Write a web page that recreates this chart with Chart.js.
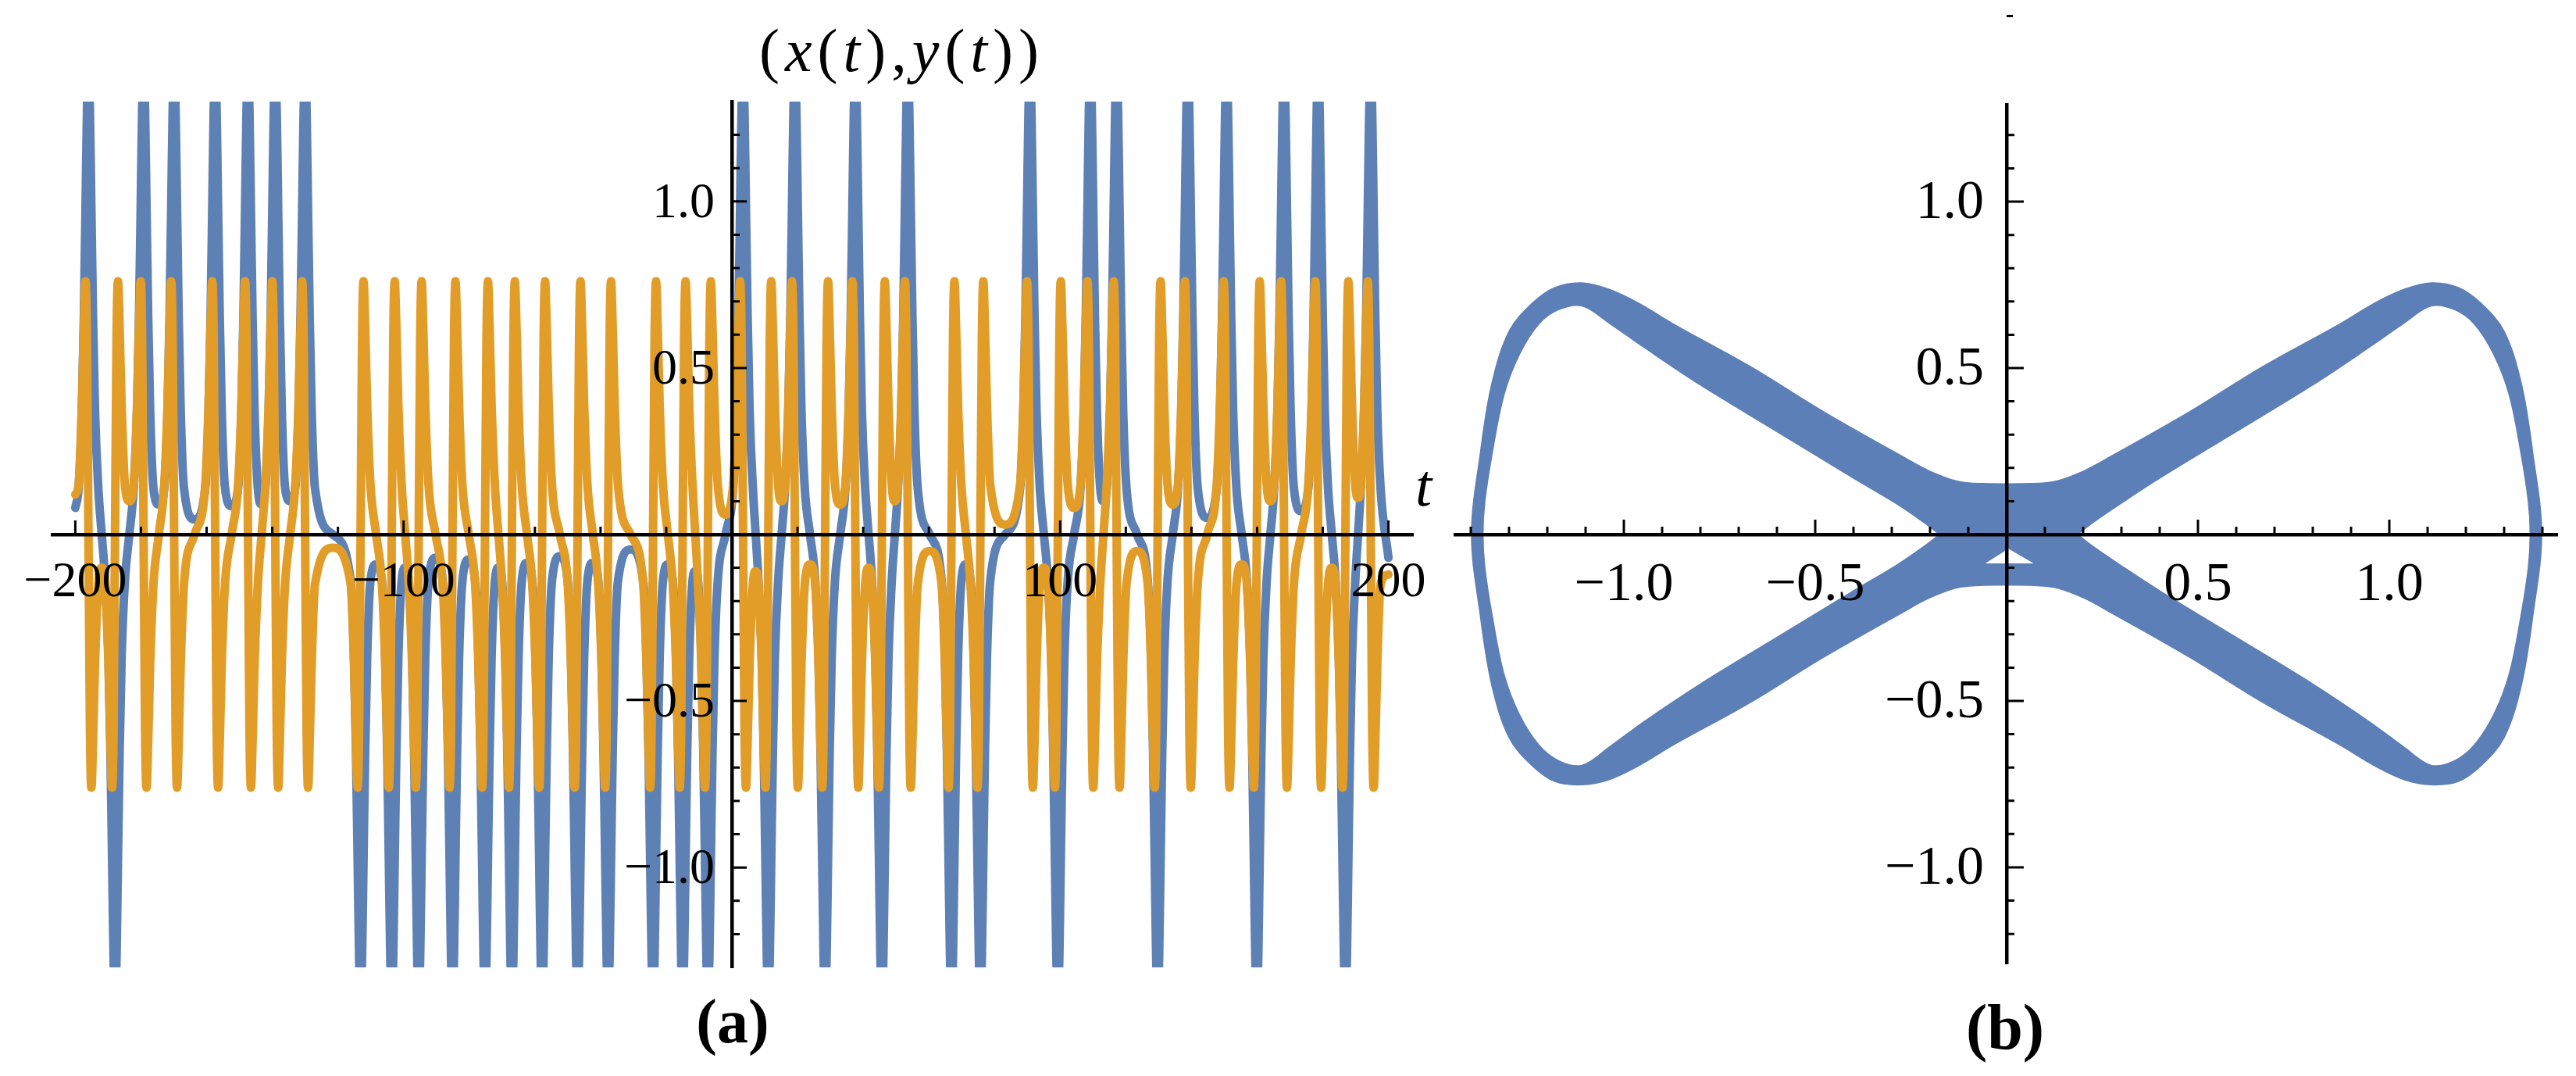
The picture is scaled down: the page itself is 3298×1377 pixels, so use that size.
<!DOCTYPE html>
<html><head><meta charset="utf-8">
<script src="https://cdn.jsdelivr.net/npm/chart.js@4.4.1/dist/chart.umd.min.js"></script>
<style>
html,body{margin:0;padding:0;background:#fff;}
#wrap{position:relative;width:3298px;height:1377px;overflow:hidden;background:#fff;}
canvas{position:absolute;top:0;}
#ca{left:0;width:1850px;height:1377px;}
#cb{left:1850px;width:1448px;height:1377px;}
.lbl{position:absolute;font-family:"Liberation Serif",serif;color:#000;line-height:1;white-space:nowrap;}
#speck{position:absolute;left:2569px;top:19px;width:8px;height:3px;background:#000;}
</style></head><body>
<div id="wrap">
<canvas id="ca" width="1850" height="1377"></canvas>
<canvas id="cb" width="1448" height="1377"></canvas>
<div class="lbl" style="left:972px;top:26px;font-size:78px;letter-spacing:7px;">(<i>x</i>(<i>t</i>),<i>y</i>(<i>t</i>))</div>
<div class="lbl" style="left:1812px;top:583px;font-size:76px;"><i>t</i></div>
<div class="lbl" style="left:838px;width:200px;text-align:center;top:1267px;font-size:80px;font-weight:bold;">(a)</div>
<div class="lbl" style="left:2467px;width:200px;text-align:center;top:1274px;font-size:82px;font-weight:bold;">(b)</div>
<div id="speck"></div>
</div>
<script>
// ---------- Panel (a): events ----------
const eventT = [-196.0,-187.9,-179.2,-169.9,-157.4,-147.4,-139.1,-130.0,-113.1,-103.6,-95.4,-85.1,-75.2,-67.0,-57.8,-47.0,-37.7,-24.0,-15.0,-7.3,3.4,11.1,19.2,28.4,37.6,45.7,53.6,66.9,75.7,90.8,99.3,109.2,117.2,129.7,138.9,150.7,159.9,168.2,178.6,186.9,194.6];
const eventSign = [1,-1,1,1,1,1,1,1,-1,-1,-1,-1,-1,-1,-1,-1,-1,-1,-1,-1,1,-1,1,-1,1,-1,1,-1,-1,1,-1,1,1,-1,1,1,-1,1,1,-1,1];
// shape of one excursion (offset in t, |x|, y) read from the spikes
const pulseDt = [-3,-2,-1.4,-0.9,-0.45,0,0.45,0.9,1.4,2,3];
const pulseX  = [0.14,0.37,0.65,0.97,1.27,1.38,1.27,0.97,0.65,0.37,0.14];
const pulseY  = [0.15,0.39,0.62,0.76,0.58,0,-0.58,-0.76,-0.62,-0.39,-0.15];
// values in the middle of each gap between excursions
const gapX = [0,0,0.09,0.045,0.085,0.09,0.10,0,-0.09,-0.10,-0.07,-0.075,-0.10,-0.085,-0.065,-0.085,-0.045,-0.09,-0.11,0,0,0,0,0,0,0,0,-0.09,0,0,0,0.10,0,0,0.05,0,0,0.07,0,0];
const gapY = [-0.10,0.10,0,0,0,0,0,-0.04,0,0,0,0,0,0,0,0,0,0,0,0.06,-0.11,0.10,-0.09,0.09,-0.10,0.10,-0.05,0,0.03,-0.10,0.08,0,-0.05,0.09,0,-0.09,0.10,0,-0.10,0.11];
const tStart = -200, tEnd = 200;
const xEnds = [0.08, -0.07];
const yEnds = [0.12, -0.12];

const aXLabelVals = [-200,-100,100,200];
const aXLabelText = ['\u2212200','\u2212100','100','200'];
const aXMinor = [-200,-180,-160,-140,-120,-100,-80,-60,-40,-20,20,40,60,80,100,120,140,160,180,200];
const yLabelVals = [-1,-0.5,0.5,1];
const yLabelText = ['\u22121.0','\u22120.5','0.5','1.0'];
const yMinor = [-1.2,-1.1,-1,-0.9,-0.8,-0.7,-0.6,-0.5,-0.4,-0.3,-0.2,-0.1,0.1,0.2,0.3,0.4,0.5,0.6,0.7,0.8,0.9,1,1.1,1.2];

// ---------- Panel (b): band boundaries ----------
const outerX = [0,0.12,0.20,0.27,0.48,0.67,0.87,0.96,1.04,1.11,1.18,1.24,1.30,1.345,1.375,1.398,1.375,1.345,1.30,1.24,1.18,1.11,1.04,0.96,0.87,0.67,0.48,0.27,0.20,0.12,0,-0.12,-0.20,-0.27,-0.48,-0.67,-0.87,-0.96,-1.04,-1.11,-1.18,-1.24,-1.30,-1.345,-1.375,-1.398,-1.375,-1.345,-1.30,-1.24,-1.18,-1.11,-1.04,-0.96,-0.87,-0.67,-0.48,-0.27,-0.20,-0.12,0];
const outerY = [0.152,0.158,0.19,0.233,0.37,0.505,0.632,0.694,0.737,0.756,0.742,0.694,0.61,0.453,0.244,0,-0.244,-0.453,-0.61,-0.694,-0.742,-0.752,-0.737,-0.694,-0.632,-0.505,-0.37,-0.233,-0.19,-0.158,-0.152,-0.158,-0.19,-0.233,-0.37,-0.505,-0.632,-0.694,-0.737,-0.752,-0.742,-0.694,-0.61,-0.453,-0.244,0,0.244,0.453,0.61,0.694,0.742,0.756,0.737,0.694,0.632,0.505,0.37,0.233,0.19,0.158,0.152];
const holeRX = [0.19,0.23,0.30,0.40,0.60,0.80,0.95,1.04,1.11,1.17,1.22,1.27,1.31,1.34,1.36,1.365,1.36,1.34,1.31,1.27,1.22,1.17,1.11,1.04,0.95,0.80,0.60,0.40,0.30,0.23,0.19];
const holeRY = [0,0.035,0.09,0.165,0.305,0.445,0.56,0.632,0.683,0.672,0.63,0.54,0.42,0.25,0.10,0,-0.10,-0.25,-0.42,-0.54,-0.63,-0.676,-0.69,-0.636,-0.56,-0.445,-0.305,-0.165,-0.09,-0.035,0];
const holeLX = [-0.18,-0.22,-0.29,-0.40,-0.60,-0.80,-0.95,-1.04,-1.11,-1.17,-1.22,-1.27,-1.31,-1.34,-1.36,-1.365,-1.36,-1.34,-1.31,-1.27,-1.22,-1.17,-1.11,-1.04,-0.95,-0.80,-0.60,-0.40,-0.29,-0.22,-0.18];
const holeLY = [0,0.035,0.09,0.165,0.305,0.445,0.56,0.632,0.683,0.672,0.63,0.54,0.42,0.25,0.10,0,-0.10,-0.25,-0.42,-0.54,-0.63,-0.676,-0.69,-0.636,-0.56,-0.445,-0.305,-0.165,-0.09,-0.035,0];
const triX = [-0.05,0.005,0.065,-0.05];
const triY = [-0.085,-0.045,-0.085,-0.085];
const bXLabelVals = [-1,-0.5,0.5,1];
const bXLabelText = ['\u22121.0','\u22120.5','0.5','1.0'];
const bXMinor = [-1.4,-1.3,-1.2,-1.1,-1,-0.9,-0.8,-0.7,-0.6,-0.5,-0.4,-0.3,-0.2,-0.1,0.1,0.2,0.3,0.4,0.5,0.6,0.7,0.8,0.9,1,1.1,1.2,1.3,1.4];

const BLUE = 'rgb(94,129,181)';
const ORANGE = 'rgb(226,157,40)';
const BAND = 'rgb(93,127,183)';
const SERIF = '"Liberation Serif", serif';

function buildSeries(profile, gaps, ends) {
  const pts = [{x: tStart, y: ends[0]}];
  for (let i = 0; i < eventT.length; i++) {
    for (let j = 0; j < pulseDt.length; j++) {
      pts.push({x: eventT[i] + pulseDt[j], y: eventSign[i] * profile[j]});
    }
    if (i < eventT.length - 1) pts.push({x: (eventT[i] + eventT[i + 1]) / 2, y: gaps[i]});
  }
  pts.push({x: tEnd, y: ends[1]});
  return pts;
}
function zipXY(xs, ys) { return xs.map((v, i) => ({x: v, y: ys[i]})); }

// Mathematica-style inward tick marks + y tick labels placed left of the crossing axis
function makeTicks(cfg) {
  return {
    id: 'mmaTicks',
    afterDraw(chart) {
      const ctx = chart.ctx, xs = chart.scales.x, ys = chart.scales.y;
      const x0 = xs.getPixelForValue(0), y0 = ys.getPixelForValue(0);
      ctx.save(); ctx.strokeStyle = '#000'; ctx.lineWidth = 3;
      ctx.beginPath();
      cfg.xTicks.forEach(v => { const p = xs.getPixelForValue(v); const L = cfg.xMajor.includes(v) ? cfg.major : cfg.minor; ctx.moveTo(p, y0); ctx.lineTo(p, y0 - L); });
      cfg.yTicks.forEach(v => { const p = ys.getPixelForValue(v); const L = cfg.yMajor.includes(v) ? cfg.majorY : cfg.minor; ctx.moveTo(x0, p); ctx.lineTo(x0 + L, p); });
      ctx.stroke();
      ctx.fillStyle = '#000';
      ctx.font = cfg.fontSize + 'px ' + SERIF;
      ctx.textAlign = 'right'; ctx.textBaseline = 'middle';
      cfg.yLabelVals.forEach((v, i) => { ctx.fillText(cfg.yLabelText[i], x0 - cfg.gap, ys.getPixelForValue(v) + 3); });
      ctx.restore();
    }
  };
}
const polyFill = {
  id: 'polyFill',
  beforeDatasetsDraw(chart) {
    const ctx = chart.ctx;
    chart.data.datasets.forEach((ds, i) => {
      if (!ds.polyFill) return;
      const line = chart.getDatasetMeta(i).dataset;
      if (!line) return;
      if (line.updateControlPoints) line.updateControlPoints(chart.chartArea, 'x');
      ctx.save(); ctx.beginPath(); line.path(ctx); ctx.closePath();
      ctx.fillStyle = ds.polyFill; ctx.fill();
      ctx.strokeStyle = ds.polyFill; ctx.lineWidth = 1.5; ctx.stroke();
      ctx.restore();
    });
  }
};

function xAxis(min, max, labelVals, labelText, pad, size) {
  return {
    type: 'linear', min: min, max: max, position: {y: 0},
    grid: {display: false, drawTicks: false},
    border: {display: true, color: '#000', width: 4.5, z: 2},
    afterBuildTicks: s => { s.ticks = labelVals.map(v => ({value: v})); },
    ticks: {z: 2, font: {family: SERIF, size: size}, color: '#000', padding: pad, autoSkip: false, maxRotation: 0,
      callback: v => { const k = labelVals.indexOf(v); return k < 0 ? '' : labelText[k]; }}
  };
}
function yAxis(min, max) {
  return {
    type: 'linear', min: min, max: max, position: {x: 0},
    grid: {display: false, drawTicks: false},
    border: {display: true, color: '#000', width: 4.5, z: 2},
    afterBuildTicks: s => { s.ticks = yLabelVals.map(v => ({value: v})); },
    ticks: {display: false}
  };
}

Chart.defaults.font.family = SERIF;

new Chart(document.getElementById('ca'), {
  type: 'scatter',
  data: {datasets: [
    {label: 'y(t)', data: buildSeries(pulseY, gapY, yEnds), showLine: true, borderColor: ORANGE, borderWidth: 11, pointRadius: 0, cubicInterpolationMode: 'monotone', borderJoinStyle: 'round', borderCapStyle: 'round', clip: 0, order: 1},
    {label: 'x(t)', data: buildSeries(pulseX, gapX, xEnds), showLine: true, borderColor: BLUE, borderWidth: 11, pointRadius: 0, cubicInterpolationMode: 'monotone', borderJoinStyle: 'round', borderCapStyle: 'round', clip: 0, order: 2}
  ]},
  options: {
    responsive: false, animation: false, devicePixelRatio: 1, events: [],
    layout: {padding: {left: 67, right: 1850 - 1827, top: 130, bottom: 1377 - 1238}},
    plugins: {legend: {display: false}, tooltip: {enabled: false}},
    scales: {x: xAxis(-207, 207.5, aXLabelVals, aXLabelText, 24, 64), y: yAxis(-1.3, 1.3)}
  },
  plugins: [makeTicks({xTicks: aXMinor, xMajor: [-200,-100,100,200], yTicks: yMinor, yMajor: [-1,-0.5,0.5,1], major: 18, majorY: 19, minor: 10, yLabelVals: yLabelVals, yLabelText: yLabelText, gap: 22, fontSize: 64})]
});

new Chart(document.getElementById('cb'), {
  type: 'scatter',
  data: {datasets: [
    {label: 'orbit', data: zipXY(outerX, outerY), showLine: true, borderWidth: 0, borderColor: 'rgba(0,0,0,0)', pointRadius: 0, tension: 0.35, polyFill: BAND},
    {label: 'holeR', data: zipXY(holeRX, holeRY), showLine: true, borderWidth: 0, borderColor: 'rgba(0,0,0,0)', pointRadius: 0, tension: 0.35, polyFill: '#fff'},
    {label: 'holeL', data: zipXY(holeLX, holeLY), showLine: true, borderWidth: 0, borderColor: 'rgba(0,0,0,0)', pointRadius: 0, tension: 0.35, polyFill: '#fff'},
    {label: 'gap', data: zipXY(triX, triY), showLine: true, borderWidth: 0, borderColor: 'rgba(0,0,0,0)', pointRadius: 0, tension: 0, polyFill: '#fff'}
  ]},
  options: {
    responsive: false, animation: false, devicePixelRatio: 1, events: [],
    layout: {padding: {left: 13.4, right: 1448 - 1424.6, top: 134.5, bottom: 1377 - 1233.5}},
    plugins: {legend: {display: false}, tooltip: {enabled: false}},
    scales: {x: xAxis(-1.44, 1.44, bXLabelVals, bXLabelText, 24, 70), y: yAxis(-1.29, 1.29)}
  },
  plugins: [polyFill, makeTicks({xTicks: bXMinor, xMajor: [-1,-0.5,0.5,1], yTicks: yMinor, yMajor: [-1,-0.5,0.5,1], major: 19, majorY: 22, minor: 10, yLabelVals: yLabelVals, yLabelText: yLabelText, gap: 29, fontSize: 70})]
});
</script>
</body></html>
